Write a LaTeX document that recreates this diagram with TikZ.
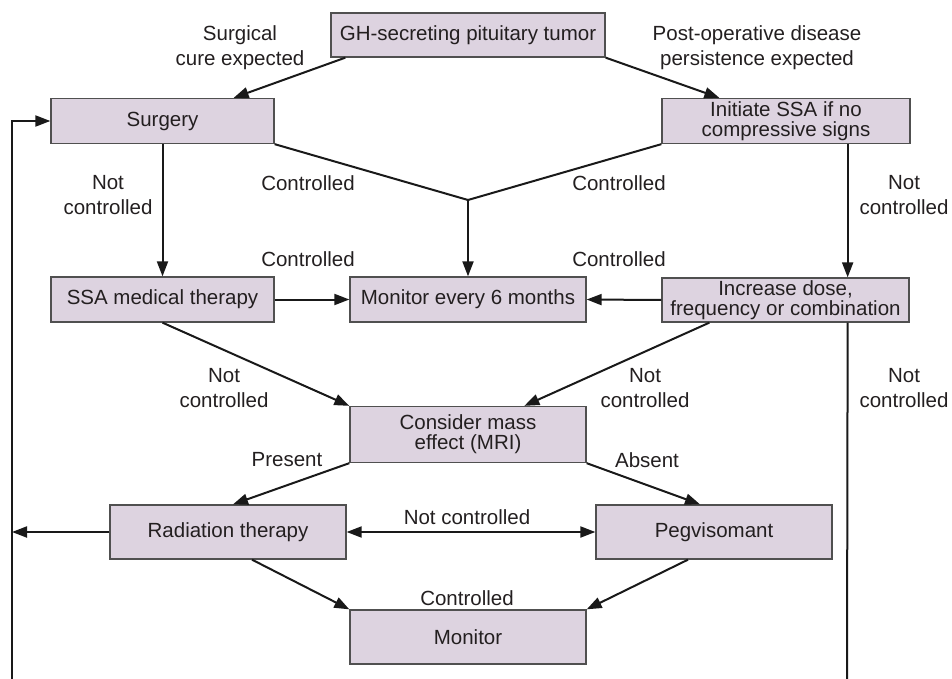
\documentclass[tikz,border=0pt]{standalone}
\usepackage{fontspec}
\setmainfont{Liberation Sans}
\usetikzlibrary{arrows.meta,calc}
\definecolor{boxfill}{RGB}{221,211,224}
\definecolor{boxline}{RGB}{80,80,80}
\definecolor{txt}{RGB}{35,31,32}
\tikzset{
  stepbox/.style={draw=boxline,fill=boxfill,line width=1.3pt,text=txt,align=center,inner sep=0pt,
    font=\fontsize{20.5}{20}\selectfont},
  lbl/.style={text=txt,align=center,inner sep=0pt,font=\fontsize{20.5}{25}\selectfont},
  conn/.style={line width=2pt,draw=black!90},
  arr/.style={conn,-{Triangle[length=15pt,width=11pt]}},
  darr/.style={conn,{Triangle[length=15pt,width=11pt]}-{Triangle[length=15pt,width=11pt]}},
}
\begin{document}
\begin{tikzpicture}[x=1pt,y=-1pt]
\useasboundingbox (0,0) rectangle (952,679);
% boxes
\node[stepbox,minimum width=274pt,minimum height=44pt] (gh) at (468,35) {GH-secreting pituitary tumor};
\node[stepbox,minimum width=223pt,minimum height=45pt] (surg) at (162.5,121) {Surgery};
\node[stepbox,minimum width=248pt,minimum height=45pt] (init) at (786,121) {Initiate SSA if no\\compressive signs};
\node[stepbox,minimum width=223pt,minimum height=45pt] (ssa) at (162.5,299.5) {SSA medical therapy};
\node[stepbox,minimum width=236pt,minimum height=45pt] (mon6) at (468,299.5) {Monitor every 6 months};
\node[stepbox,minimum width=247pt,minimum height=44pt] (inc) at (785.5,300) {Increase dose,\\frequency or combination};
\node[stepbox,minimum width=236pt,minimum height=56pt] (cons) at (468,434.5) {Consider mass\\effect (MRI)};
\node[stepbox,minimum width=236pt,minimum height=54pt] (rad) at (228,532) {Radiation therapy};
\node[stepbox,minimum width=236pt,minimum height=54pt] (peg) at (714,532) {Pegvisomant};
\node[stepbox,minimum width=236pt,minimum height=54pt] (mon) at (468,637) {Monitor};
% helper coordinates
\coordinate (j) at (468,200);
\coordinate (bl) at (12,679);
\coordinate (br) at (847,679);
\coordinate (lr) at (12,532);
% connectors
\draw[arr] ($(gh.south west)+(15,0)$) -- ($(surg.north east)+(-41,0)$);
\draw[arr] (gh.south east) -- ($(init.north west)+(58,0)$);
\draw[conn] (surg.south east) -- (j);
\draw[conn] (init.south west) -- (j);
\draw[arr] (j) -- (mon6.north);
\draw[arr] (surg.south) -- (ssa.north);
\draw[arr] ($(init.south east)+(-63,0)$) -- ($(inc.north east)+(-62,0)$);
\draw[arr] (ssa.east) -- (mon6.west);
\draw[arr] (inc.west) -- (mon6.east);
\draw[arr] (ssa.south) -- (cons.north west);
\draw[arr] ($(inc.south west)+(48,0)$) -- ($(cons.north west)+(175,0)$);
\draw[arr] (cons.south west) -- ($(rad.north)+(5,0)$);
\draw[arr] (cons.south east) -- ($(peg.north)+(-14,0)$);
\draw[arr] (rad.west) -- (lr);
\draw[darr] (rad.east) -- (peg.west);
\draw[arr] ($(rad.south)+(24,0)$) -- (mon.north west);
\draw[arr] ($(peg.south)+(-26,0)$) -- (mon.north east);
\draw[conn] ($(inc.south east)+(-62,0)$) -- (br);
\draw[arr] (bl) |- (surg.west);
% labels
\node[lbl] (l1) at (240,48) {Surgical\\cure expected};
\node[lbl] (l2) at (757,48) {Post-operative disease\\persistence expected};
\node[lbl] (l3) at (108,195) {Not\\controlled};
\node[lbl] (l4) at (308,183) {Controlled};
\node[lbl] (l5) at (619,183) {Controlled};
\node[lbl] (l6) at (904,195) {Not\\controlled};
\node[lbl] (l7) at (308,259) {Controlled};
\node[lbl] (l8) at (619,259) {Controlled};
\node[lbl] (l9) at (224,388) {Not\\controlled};
\node[lbl] (l10) at (645,388) {Not\\controlled};
\node[lbl] (l11) at (904,388) {Not\\controlled};
\node[lbl] (l12) at (287,460) {Present};
\node[lbl] (l13) at (647,460) {Absent};
\node[lbl] (l14) at (467,517) {Not controlled};
\node[lbl] (l15) at (467,598) {Controlled};
\end{tikzpicture}
\end{document}
